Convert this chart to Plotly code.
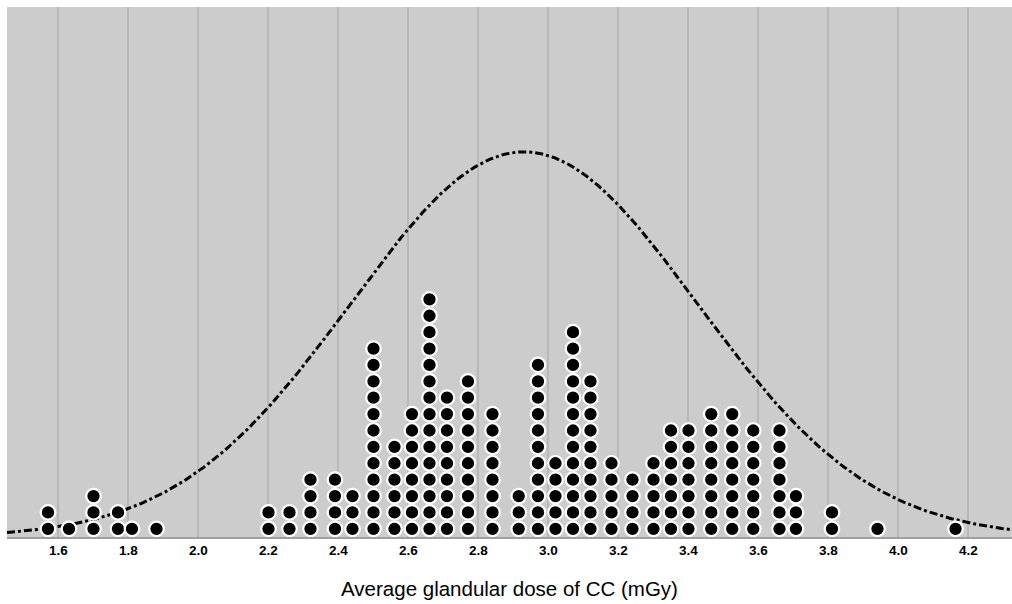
import numpy as np
import plotly.graph_objects as go

# Bin centres (mGy) and number of cases stacked in each bin
bin_values = [1.57, 1.63, 1.70, 1.77, 1.81, 1.88, 2.20, 2.26, 2.32, 2.39, 2.44, 2.50,
              2.56, 2.61, 2.66, 2.71, 2.77, 2.84, 2.915, 2.97, 3.02, 3.07, 3.12, 3.18,
              3.24, 3.30, 3.35, 3.40, 3.465, 3.525, 3.585, 3.66, 3.707, 3.81, 3.94, 4.163]
bin_counts = [2, 1, 3, 2, 1, 1, 2, 2, 4, 4, 3, 12,
              6, 8, 15, 9, 10, 8, 3, 11, 5, 13, 10, 5,
              4, 5, 7, 7, 8, 8, 7, 7, 3, 2, 1, 1]

# Normal curve parameters
curve_mean = 2.93
curve_sd = 0.495
curve_peak = 23.5  # height in dot units

tick_vals = [1.6, 1.8, 2.0, 2.2, 2.4, 2.6, 2.8, 3.0, 3.2, 3.4, 3.6, 3.8, 4.0, 4.2]
tick_text = ["1.6", "1.8", "2.0", "2.2", "2.4", "2.6", "2.8", "3.0", "3.2", "3.4",
             "3.6", "3.8", "4.0", "4.2"]
x_title = "Average glandular dose of CC (mGy)"

X_RANGE = [1.4529, 4.3243]
Y_RANGE = [0, 32.34]

# stacked dot positions
dot_x, dot_y = [], []
for v, c in zip(bin_values, bin_counts):
    for k in range(c):
        dot_x.append(v)
        dot_y.append(k + 0.5)

cx = np.linspace(X_RANGE[0], X_RANGE[1], 400)
cy = curve_peak * np.exp(-0.5 * ((cx - curve_mean) / curve_sd) ** 2)

fig = go.Figure()
fig.add_trace(go.Scatter(
    x=cx, y=cy, mode="lines",
    line=dict(color="black", width=3, dash="8px,3px,3px,3px"),
    hoverinfo="skip", showlegend=False))
fig.add_trace(go.Scatter(
    x=dot_x, y=dot_y, mode="markers",
    marker=dict(color="black", size=14.5, line=dict(color="white", width=2.2)),
    showlegend=False))

fig.update_layout(
    width=1012, height=604,
    margin=dict(l=7, r=0, t=7, b=67),
    paper_bgcolor="white",
    plot_bgcolor="#cccccc",
    font=dict(family="Liberation Sans, Arial, sans-serif", color="black"),
    xaxis=dict(
        range=X_RANGE, tickmode="array", tickvals=tick_vals, ticktext=tick_text,
        showgrid=True, gridcolor="#b8b8b8", gridwidth=2,
        zeroline=False, showline=True, linecolor="#a0a0a0", linewidth=2,
        ticks="", tickfont=dict(size=13.5, family="Liberation Sans, Arial", weight="bold"),
        title=dict(text=x_title, font=dict(size=20.5), standoff=24),
    ),
    yaxis=dict(range=Y_RANGE, showgrid=False, zeroline=False, showticklabels=False,
               showline=False, ticks=""),
)

fig.write_html("out.html", config={"displayModeBar": False},
               post_script="document.body.style.margin='0px';")
